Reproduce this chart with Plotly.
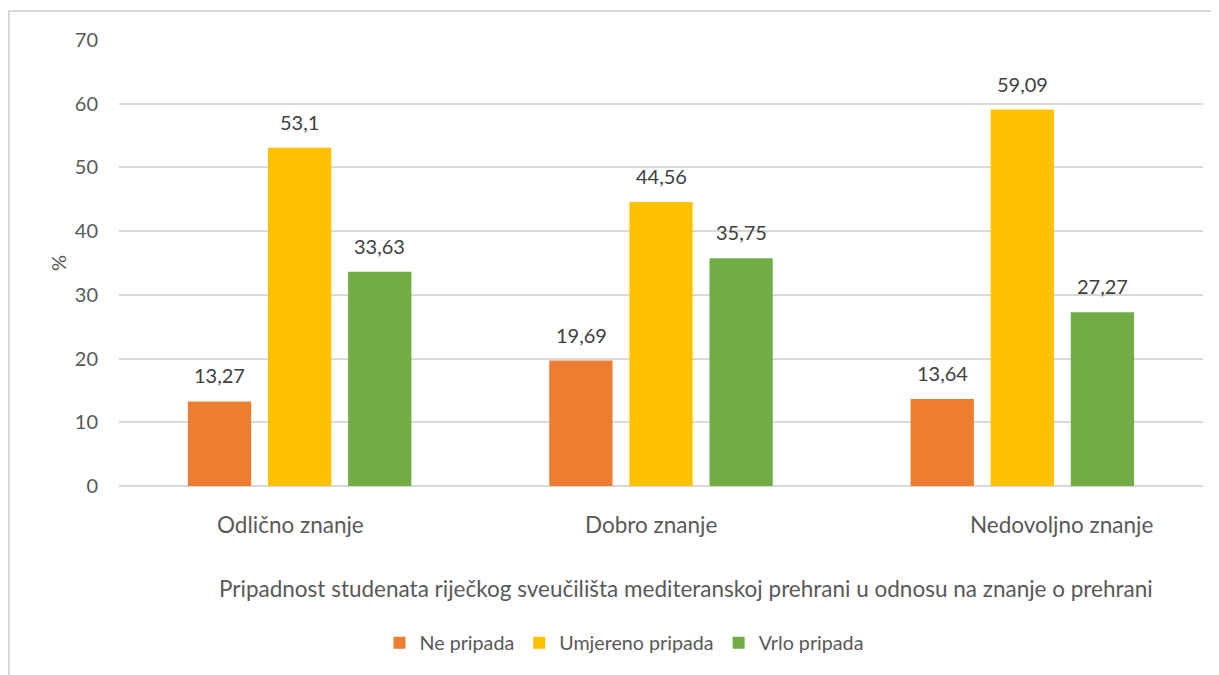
import plotly.graph_objects as go

categories = ["Odlično znanje", "Dobro znanje", "Nedovoljno znanje"]
series_names = ["Ne pripada", "Umjereno pripada", "Vrlo pripada"]
ne_pripada = [13.27, 19.69, 13.64]
umjereno_pripada = [53.1, 44.56, 59.09]
vrlo_pripada = [33.63, 35.75, 27.27]
y_ticks = [0, 10, 20, 30, 40, 50, 60, 70]
x_title = "Pripadnost studenata riječkog sveučilišta mediteranskoj prehrani u odnosu na znanje o prehrani"
y_title = "%"

colors = ["#ED7D31", "#FFC000", "#70AD47"]
series_values = [ne_pripada, umjereno_pripada, vrlo_pripada]
FONT = "Lato"
TXT = "#595959"

# page body has an 8px margin; figure coords = screen coords - 8
OFF = 8
W, H = 1219 - OFF, 675 - OFF
L, R, T, B = 119 - OFF, 16, 40 - OFF, 189
pw, ph = W - L - R, H - T - B
x_axis_px = 486 - OFF


def px_to_paper_x(px):
    return (px - OFF - L) / pw


def px_to_paper_y(py):
    return (x_axis_px - (py - OFF)) / ph


fig = go.Figure()
for name, vals, col in zip(series_names, series_values, colors):
    fig.add_trace(go.Bar(
        x=categories, y=vals, name=name,
        marker=dict(color=col, line=dict(width=0)),
        hoverinfo="x+y+name",
    ))

annotations = []
offsets = [-80, 0, 80]
for vals, off in zip(series_values, offsets):
    for c, v in zip(categories, vals):
        annotations.append(dict(
            x=c, y=v, xref="x", yref="y", text=str(v).replace(".", ","),
            showarrow=False, xshift=off, yshift=12, yanchor="bottom",
            font=dict(family=FONT, size=20, color="#404040"),
        ))

label_shift = [-9, -10, 39]
for c, s in zip(categories, label_shift):
    annotations.append(dict(
        x=c, y=0, xref="x", yref="y", text=c, showarrow=False,
        xshift=s, yshift=-38, yanchor="middle",
        font=dict(family=FONT, size=22.5, color=TXT),
    ))

annotations.append(dict(
    x=px_to_paper_x(686), y=px_to_paper_y(588), xref="paper", yref="paper",
    text=x_title, showarrow=False, xanchor="center", yanchor="middle",
    font=dict(family=FONT, size=22.5, color=TXT),
))

fig.update_layout(
    width=W, height=H,
    margin=dict(l=L, r=R, t=T, b=B, autoexpand=False),
    paper_bgcolor="white", plot_bgcolor="white",
    barmode="group", bargap=0.335, bargroupgap=0.21,
    font=dict(family=FONT, size=20, color=TXT),
    showlegend=True,
    legend=dict(
        orientation="h", x=px_to_paper_x(624), xanchor="center",
        y=px_to_paper_y(643), yanchor="middle",
        font=dict(family=FONT, size=19.7, color=TXT),
        itemwidth=30, tracegroupgap=0,
    ),
    annotations=annotations,
    shapes=[dict(
        type="rect", xref="paper", yref="paper",
        x0=px_to_paper_x(9), x1=px_to_paper_x(1240),
        y0=px_to_paper_y(700), y1=px_to_paper_y(11),
        line=dict(color="#D9D9D9", width=2), fillcolor="rgba(0,0,0,0)", layer="below",
    )],
    xaxis=dict(showticklabels=False, showgrid=False, zeroline=False, showline=False, ticks=""),
    yaxis=dict(
        range=[0, 70], tickvals=y_ticks, showgrid=True, gridcolor="#D9D9D9", gridwidth=1.5,
        zeroline=True, zerolinecolor="#D9D9D9", zerolinewidth=1.5, showline=False,
        ticks="", ticklabelstandoff=20, tickfont=dict(family=FONT, size=20, color=TXT),
        title=dict(text=y_title, font=dict(family=FONT, size=20, color=TXT), standoff=2),
    ),
)

fig.write_html("out.html")
